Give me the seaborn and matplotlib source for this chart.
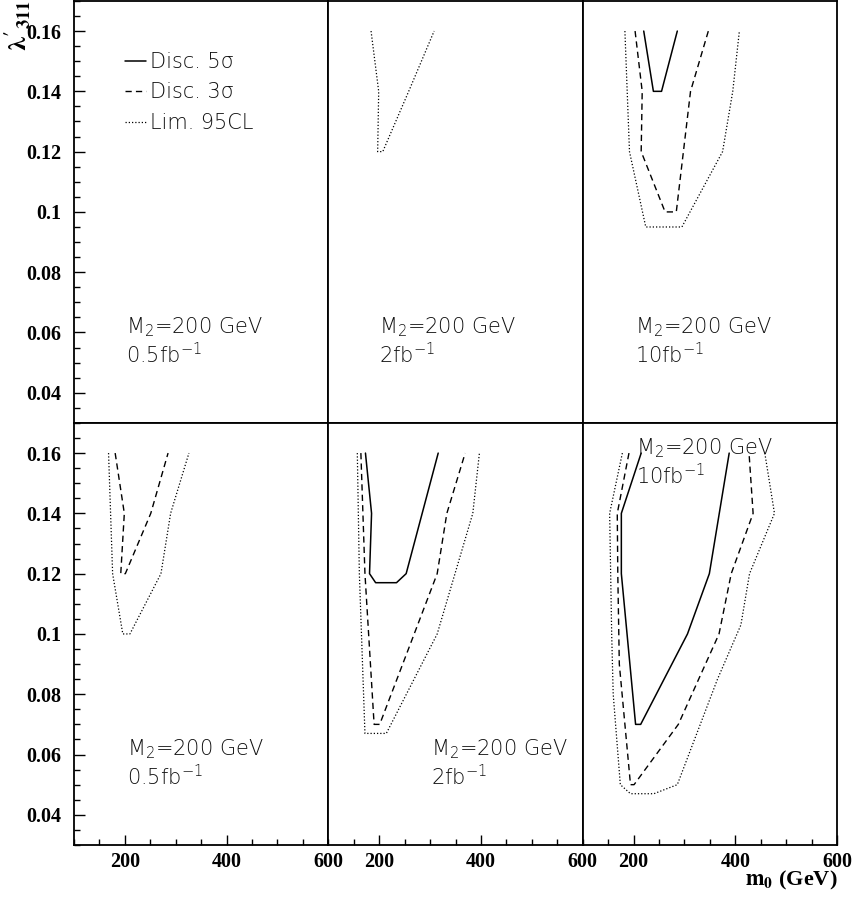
import matplotlib
matplotlib.use("Agg")
import matplotlib.pyplot as plt
from matplotlib.lines import Line2D
from matplotlib.ticker import MultipleLocator, FuncFormatter
import seaborn as sns

# contour points: m0 (GeV) and lambda'_311
# top row
top_mid_95_m0 = [184, 199, 197, 207, 258, 308]
top_mid_95_lam = [0.16, 0.14, 0.12, 0.12, 0.14, 0.16]

top_right_5s_m0 = [220, 239, 255, 286]
top_right_5s_lam = [0.16, 0.14, 0.14, 0.16]
top_right_3s_m0 = [203, 217, 215, 262, 284, 312, 347]
top_right_3s_lam = [0.16, 0.14, 0.12, 0.10, 0.10, 0.14, 0.16]
top_right_95_m0 = [183, 192, 224, 295, 375, 395, 408]
top_right_95_lam = [0.16, 0.12, 0.095, 0.095, 0.12, 0.14, 0.16]

# bottom row
bot_left_3s_m0 = [181, 199, 192, 201, 251, 285]
bot_left_3s_lam = [0.16, 0.14, 0.12, 0.12, 0.14, 0.16]
bot_left_95_m0 = [168, 176, 196, 210, 271, 290, 326]
bot_left_95_lam = [0.16, 0.12, 0.10, 0.10, 0.12, 0.14, 0.16]

bot_mid_5s_m0 = [173, 185, 181, 193, 234, 253, 316]
bot_mid_5s_lam = [0.16, 0.14, 0.12, 0.117, 0.117, 0.12, 0.16]
bot_mid_3s_m0 = [164, 172, 190, 201, 314, 333, 369]
bot_mid_3s_lam = [0.16, 0.12, 0.07, 0.07, 0.12, 0.14, 0.16]
bot_mid_95_m0 = [157, 161, 172, 214, 314, 349, 384, 397]
bot_mid_95_lam = [0.16, 0.12, 0.067, 0.067, 0.10, 0.12, 0.14, 0.16]

bot_right_5s_m0 = [215, 176, 176, 204, 214, 306, 349, 388]
bot_right_5s_lam = [0.16, 0.14, 0.12, 0.07, 0.07, 0.10, 0.12, 0.16]
bot_right_3s_m0 = [191, 168, 169, 172, 194, 201, 288, 368, 392, 435, 427]
bot_right_3s_lam = [0.16, 0.14, 0.12, 0.09, 0.05, 0.05, 0.07, 0.10, 0.12, 0.14, 0.16]
bot_right_95_m0 = [178, 153, 155, 157, 160, 174, 194, 240, 286, 365, 411, 428, 477, 458]
bot_right_95_lam = [0.16, 0.14, 0.12, 0.10, 0.08, 0.05, 0.047, 0.047, 0.05, 0.085, 0.103, 0.12, 0.14, 0.16]

lumi_labels = ["0.5fb$^{-1}$", "2fb$^{-1}$", "10fb$^{-1}$"]
mass_label = "M$_2$=200 GeV"
legend_labels = ["Disc. 5\u03c3", "Disc. 3\u03c3", "Lim. 95CL"]

SOLID = "-"
DASHED = (0, (4.5, 3))
DOTTED = (0, (1, 1.6))
STYLES = {"5s": (SOLID, 1.1), "3s": (DASHED, 1.0), "95": (DOTTED, 0.9)}

contours = {
    (0, 1): [("95", top_mid_95_m0, top_mid_95_lam)],
    (0, 2): [("5s", top_right_5s_m0, top_right_5s_lam),
             ("3s", top_right_3s_m0, top_right_3s_lam),
             ("95", top_right_95_m0, top_right_95_lam)],
    (1, 0): [("3s", bot_left_3s_m0, bot_left_3s_lam),
             ("95", bot_left_95_m0, bot_left_95_lam)],
    (1, 1): [("5s", bot_mid_5s_m0, bot_mid_5s_lam),
             ("3s", bot_mid_3s_m0, bot_mid_3s_lam),
             ("95", bot_mid_95_m0, bot_mid_95_lam)],
    (1, 2): [("5s", bot_right_5s_m0, bot_right_5s_lam),
             ("3s", bot_right_3s_m0, bot_right_3s_lam),
             ("95", bot_right_95_m0, bot_right_95_lam)],
}

# where the two text lines sit in each panel (axes fraction)
text_pos = {
    (0, 0): (0.205, 0.212), (0, 1): (0.200, 0.212), (0, 2): (0.207, 0.212),
    (1, 0): (0.208, 0.212), (1, 1): (0.405, 0.212), (1, 2): (0.208, 0.926),
}

sns.set_theme(style="ticks")
plt.rcParams["font.family"] = ["Liberation Serif", "DejaVu Serif"]
plt.rcParams["font.weight"] = "bold"
plt.rcParams["text.color"] = "black"
plt.rcParams["axes.linewidth"] = 1.3
plt.rcParams["mathtext.fontset"] = "custom"
plt.rcParams["mathtext.rm"] = "DejaVu Sans:light"
plt.rcParams["mathtext.it"] = "DejaVu Sans:light"
plt.rcParams["mathtext.default"] = "rm"

SANS = ["DejaVu Sans"]
TXT = dict(family=SANS, fontweight="light", fontsize=15, color="#111111")

fig, axes = plt.subplots(2, 3, figsize=(8.64, 9.01), dpi=100)
fig.subplots_adjust(left=0.0856, right=0.9688, top=0.999, bottom=0.0622, wspace=0, hspace=0)

fmt = FuncFormatter(lambda v, p: f"{v:g}")

for r in range(2):
    for c in range(3):
        ax = axes[r, c]
        for key, xs, ys in contours.get((r, c), []):
            ls, lw = STYLES[key]
            sns.lineplot(x=xs, y=ys, ax=ax, sort=False, estimator=None,
                         color="black", linewidth=lw, linestyle=ls)
        ax.set_xlim(100, 600)
        ax.set_ylim(0.03, 0.17)
        ax.xaxis.set_major_locator(MultipleLocator(200))
        ax.xaxis.set_minor_locator(MultipleLocator(50))
        ax.yaxis.set_major_locator(MultipleLocator(0.02))
        ax.yaxis.set_minor_locator(MultipleLocator(0.005))
        ax.xaxis.set_major_formatter(fmt)
        ax.yaxis.set_major_formatter(fmt)
        ax.tick_params(which="both", direction="in", top=False, right=False,
                       bottom=(r == 1), left=(c == 0),
                       labelbottom=(r == 1), labelleft=(c == 0),
                       labelsize=14.5, width=1, color="black", labelcolor="black")
        ax.tick_params(axis="y", which="major", length=8, pad=9)
        ax.tick_params(axis="y", which="minor", length=4.5)
        ax.tick_params(axis="x", which="major", length=7, pad=5)
        ax.tick_params(axis="x", which="minor", length=4.5)
        ax.set_xlabel("")
        ax.set_ylabel("")
        for sp in ax.spines.values():
            sp.set_color("black")

        tx, ty = text_pos[(r, c)]
        ax.text(tx, ty, mass_label, transform=ax.transAxes, va="baseline", **TXT)
        ax.text(tx, ty - 0.07, lumi_labels[c], transform=ax.transAxes, va="baseline", **TXT)

handles = [Line2D([], [], color="black", linestyle=STYLES[k][0], linewidth=STYLES[k][1])
           for k in ["5s", "3s", "95"]]
leg = axes[0, 0].legend(handles, legend_labels, loc="upper left", bbox_to_anchor=(0.2, 0.879),
                        frameon=False, handlelength=1.0, handletextpad=0.2, labelspacing=0.5,
                        borderaxespad=0, borderpad=0,
                        prop={"family": SANS, "weight": "light", "size": 15})
for t in leg.get_texts():
    t.set_color("#111111")

fig.text(0.02, 1.0, r"$\mathbf{\lambda'_{311}}$", rotation=90, ha="center", va="top",
         fontsize=19, math_fontfamily="stix")
fig.text(0.9688, 0.0175, r"$\mathbf{m_0}$ (GeV)", ha="right", va="baseline",
         fontsize=16, math_fontfamily="stix")

fig.savefig("out.png", dpi=100)
